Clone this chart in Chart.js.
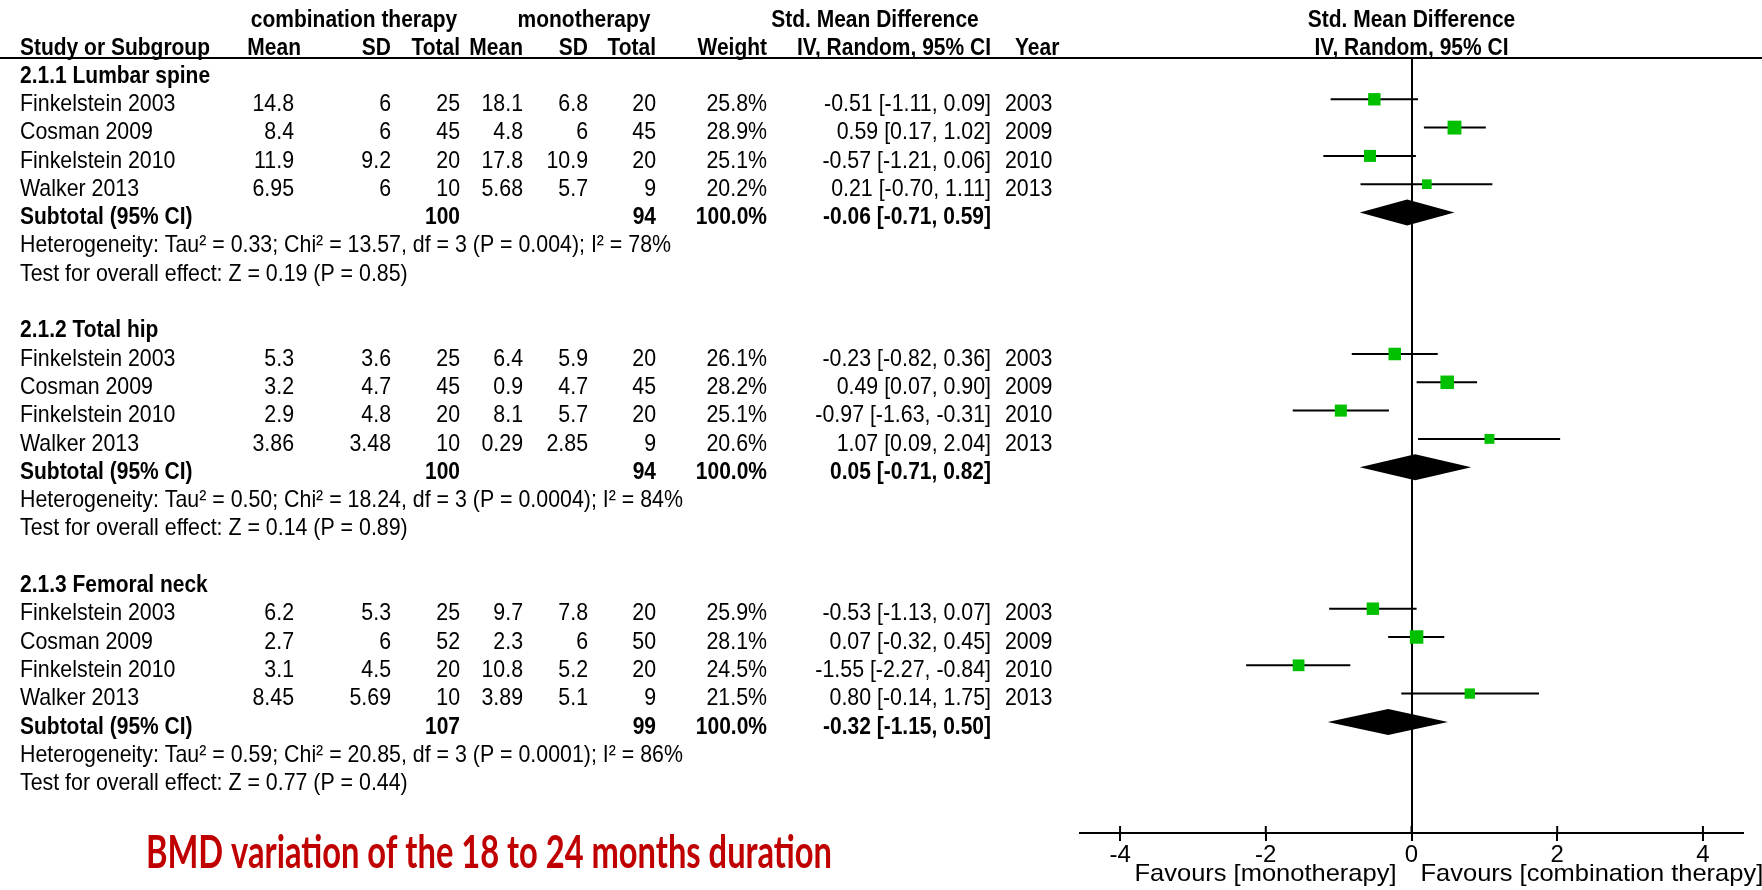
<!DOCTYPE html>
<html>
<head>
<meta charset="utf-8">
<script src="https://cdn.jsdelivr.net/npm/chart.js@4.4.0/dist/chart.umd.min.js"></script>
<style>
  html, body { margin: 0; padding: 0; background: #fff; }
  #wrap { width: 1762px; height: 890px; }
</style>
</head>
<body>
<div id="wrap"><canvas id="forest" width="1762" height="890"></canvas></div>
<script>
// ---- data ----
const groups = ['2.1.1 Lumbar spine', '2.1.2 Total hip', '2.1.3 Femoral neck'];
const studies = ['Finkelstein 2003', 'Cosman 2009', 'Finkelstein 2010', 'Walker 2013'];
const years = ['2003', '2009', '2010', '2013'];

// 3 subgroups x 4 studies, in table order
const combMean = [14.8, 8.4, 11.9, 6.95, 5.3, 3.2, 2.9, 3.86, 6.2, 2.7, 3.1, 8.45];
const combSD = [6, 6, 9.2, 6, 3.6, 4.7, 4.8, 3.48, 5.3, 6, 4.5, 5.69];
const combN = [25, 45, 20, 10, 25, 45, 20, 10, 25, 52, 20, 10];
const monoMean = [18.1, 4.8, 17.8, 5.68, 6.4, 0.9, 8.1, 0.29, 9.7, 2.3, 10.8, 3.89];
const monoSD = [6.8, 6, 10.9, 5.7, 5.9, 4.7, 5.7, 2.85, 7.8, 6, 5.2, 5.1];
const monoN = [20, 45, 20, 9, 20, 45, 20, 9, 20, 50, 20, 9];
const weights = [25.8, 28.9, 25.1, 20.2, 26.1, 28.2, 25.1, 20.6, 25.9, 28.1, 24.5, 21.5];
const smd = [-0.51, 0.59, -0.57, 0.21, -0.23, 0.49, -0.97, 1.07, -0.53, 0.07, -1.55, 0.80];
const ciLow = [-1.11, 0.17, -1.21, -0.70, -0.82, 0.07, -1.63, 0.09, -1.13, -0.32, -2.27, -0.14];
const ciHigh = [0.09, 1.02, 0.06, 1.11, 0.36, 0.90, -0.31, 2.04, 0.07, 0.45, -0.84, 1.75];

// subtotals per subgroup
const subCombN = [100, 100, 107];
const subMonoN = [94, 94, 99];
const subSmd = [-0.06, 0.05, -0.32];
const subLow = [-0.71, -0.71, -1.15];
const subHigh = [0.59, 0.82, 0.50];
const tau2 = ['0.33', '0.50', '0.59'];
const chi2 = ['13.57', '18.24', '20.85'];
const hetP = ['0.004', '0.0004', '0.0001'];
const i2 = [78, 84, 86];
const zVal = ['0.19', '0.14', '0.77'];
const zP = ['0.85', '0.89', '0.44'];

const xTicks = [-4, -2, 0, 2, 4];

// ---- layout ----
const ROWS_PER_GROUP = 9;   // header, 4 studies, subtotal, heterogeneity, test, blank
const studyRow = i => Math.floor(i / 4) * ROWS_PER_GROUP + 1 + (i % 4);
const subRow = g => g * ROWS_PER_GROUP + 5;

const cols = { combMean: 294, combSD: 391, combN: 460, monoMean: 523, monoSD: 588,
  monoN: 656, weight: 767, ci: 991, year: 1005 };
const FS = 24;
const FONT = '"Liberation Sans", Arial, sans-serif';
const GREEN = '#00c000';

const f2 = v => v.toFixed(2);
const ciText = (e, l, h) => `${f2(e)} [${f2(l)}, ${f2(h)}]`;
const hetText = g => `Heterogeneity: Tau\u00b2 = ${tau2[g]}; Chi\u00b2 = ${chi2[g]}, df = 3 (P = ${hetP[g]}); I\u00b2 = ${i2[g]}%`;

// horizontal squeeze for regular / bold / favours text (the reference is condensed)
let SX = 1, SXB = 1, SXF = 1;
function txt(ctx, s, x, y, align, bold, sx) {
  ctx.save();
  ctx.font = (bold ? 'bold ' : '') + FS + 'px ' + FONT;
  ctx.fillStyle = '#000';
  ctx.textAlign = align;
  ctx.textBaseline = 'middle';
  ctx.translate(x, y);
  ctx.scale(sx || (bold ? SXB : SX), 1);
  ctx.fillText(s, 0, 0);
  ctx.restore();
}

// whisker segments, separated by gaps
const whiskers = [];
smd.forEach((v, i) => {
  whiskers.push({ x: ciLow[i], y: studyRow(i) }, { x: ciHigh[i], y: studyRow(i) }, { x: null, y: null });
});
const squares = smd.map((v, i) => ({ x: v, y: studyRow(i) }));

const forestPlugin = {
  id: 'forest',
  afterDatasetsDraw(chart) {
    const { ctx, scales: { x, y } } = chart;
    // subtotal diamonds
    ctx.save();
    ctx.fillStyle = '#000';
    subSmd.forEach((v, g) => {
      const py = y.getPixelForValue(subRow(g));
      ctx.beginPath();
      ctx.moveTo(x.getPixelForValue(subLow[g]), py);
      ctx.lineTo(x.getPixelForValue(v), py - 13);
      ctx.lineTo(x.getPixelForValue(subHigh[g]), py);
      ctx.lineTo(x.getPixelForValue(v), py + 13);
      ctx.closePath();
      ctx.fill();
    });
    // upper half of the axis ticks
    ctx.strokeStyle = '#000';
    ctx.lineWidth = 2;
    xTicks.forEach(t => {
      const px = x.getPixelForValue(t);
      ctx.beginPath();
      ctx.moveTo(px, y.bottom - 7);
      ctx.lineTo(px, y.bottom);
      ctx.stroke();
    });
    ctx.restore();
  },
  afterDraw(chart) {
    const { ctx, scales: { x, y } } = chart;
    ctx.save();
    ctx.font = FS + 'px ' + FONT;
    SX = 651 / ctx.measureText(hetText(0)).width;
    SXF = 262 / ctx.measureText('Favours [monotherapy]').width;
    ctx.font = 'bold ' + FS + 'px ' + FONT;
    SXB = 190 / ctx.measureText('Study or Subgroup').width;
    ctx.restore();

    const ry = r => y.getPixelForValue(r) + 5;
    const mid = x.getPixelForValue(0);

    // header rows
    const h1 = 20, h2 = 48;
    txt(ctx, 'combination therapy', 354, h1, 'center', true);
    txt(ctx, 'monotherapy', 584, h1, 'center', true);
    txt(ctx, 'Std. Mean Difference', 875, h1, 'center', true);
    txt(ctx, 'Std. Mean Difference', mid, h1, 'center', true);
    txt(ctx, 'Study or Subgroup', 20, h2, 'left', true);
    txt(ctx, 'Mean', 301, h2, 'right', true);
    txt(ctx, 'SD', cols.combSD, h2, 'right', true);
    txt(ctx, 'Total', cols.combN, h2, 'right', true);
    txt(ctx, 'Mean', cols.monoMean, h2, 'right', true);
    txt(ctx, 'SD', cols.monoSD, h2, 'right', true);
    txt(ctx, 'Total', cols.monoN, h2, 'right', true);
    txt(ctx, 'Weight', cols.weight, h2, 'right', true);
    txt(ctx, 'IV, Random, 95% CI', cols.ci, h2, 'right', true);
    txt(ctx, 'Year', 1015, h2, 'left', true);
    txt(ctx, 'IV, Random, 95% CI', mid, h2, 'center', true);

    ctx.save();
    ctx.strokeStyle = '#000';
    ctx.lineWidth = 2;
    ctx.beginPath();
    ctx.moveTo(0, y.top - 1);
    ctx.lineTo(chart.width, y.top - 1);
    ctx.stroke();
    ctx.restore();

    // study rows
    smd.forEach((v, i) => {
      const py = ry(studyRow(i));
      txt(ctx, studies[i % 4], 20, py, 'left');
      txt(ctx, String(combMean[i]), cols.combMean, py, 'right');
      txt(ctx, String(combSD[i]), cols.combSD, py, 'right');
      txt(ctx, String(combN[i]), cols.combN, py, 'right');
      txt(ctx, String(monoMean[i]), cols.monoMean, py, 'right');
      txt(ctx, String(monoSD[i]), cols.monoSD, py, 'right');
      txt(ctx, String(monoN[i]), cols.monoN, py, 'right');
      txt(ctx, weights[i].toFixed(1) + '%', cols.weight, py, 'right');
      txt(ctx, ciText(v, ciLow[i], ciHigh[i]), cols.ci, py, 'right');
      txt(ctx, years[i % 4], cols.year, py, 'left');
    });

    // subgroup header, subtotal and test lines
    groups.forEach((name, g) => {
      const base = g * ROWS_PER_GROUP;
      txt(ctx, name, 20, ry(base), 'left', true);
      const py = ry(subRow(g));
      txt(ctx, 'Subtotal (95% CI)', 20, py, 'left', true);
      txt(ctx, String(subCombN[g]), cols.combN, py, 'right', true);
      txt(ctx, String(subMonoN[g]), cols.monoN, py, 'right', true);
      txt(ctx, '100.0%', cols.weight, py, 'right', true);
      txt(ctx, ciText(subSmd[g], subLow[g], subHigh[g]), cols.ci, py, 'right', true);
      txt(ctx, hetText(g), 20, ry(base + 6), 'left');
      txt(ctx, `Test for overall effect: Z = ${zVal[g]} (P = ${zP[g]})`, 20, ry(base + 7), 'left');
    });

    // favours labels under the axis
    txt(ctx, 'Favours [monotherapy]', mid - 15, 874, 'right', false, SXF);
    txt(ctx, 'Favours [combination therapy]', mid + 9, 874, 'left', false, SXF);

    // red caption
    ctx.save();
    ctx.font = 'bold 46px Lato, "Open Sans", sans-serif';
    const tw = ctx.measureText('BMD variation of the 18 to 24 months duration').width;
    ctx.fillStyle = '#c00000';
    ctx.textBaseline = 'middle';
    ctx.translate(146, 853);
    ctx.scale(686 / tw, 1);
    ctx.fillText('BMD variation of the 18 to 24 months duration', 0, 0);
    ctx.restore();
  }
};

new Chart(document.getElementById('forest'), {
  type: 'scatter',
  data: {
    datasets: [
      {
        data: squares,
        pointStyle: 'rect',
        pointRadius: weights.map(w => w * 0.48 / Math.SQRT2),
        backgroundColor: GREEN,
        borderColor: GREEN,
        borderWidth: 0,
        order: 0
      },
      {
        data: whiskers,
        showLine: true,
        spanGaps: false,
        borderColor: '#000',
        borderWidth: 2,
        pointRadius: 0,
        order: 1
      }
    ]
  },
  options: {
    responsive: false,
    animation: false,
    devicePixelRatio: 1,
    layout: { padding: { left: 1080, right: 19, top: 59, bottom: 0 } },
    plugins: { legend: { display: false }, tooltip: { enabled: false } },
    scales: {
      x: {
        min: -4.55,
        max: 4.55,
        afterBuildTicks: scale => { scale.ticks = xTicks.map(v => ({ value: v })); },
        afterFit: scale => { scale.height = 57; },
        border: { display: true, color: '#000', width: 2 },
        grid: {
          drawOnChartArea: true,
          color: ctx => (ctx.tick && ctx.tick.value === 0 ? '#000' : 'rgba(0,0,0,0)'),
          lineWidth: 2,
          tickColor: '#000',
          tickLength: 8
        },
        ticks: { color: '#000', font: { family: FONT, size: 24 }, padding: 0 }
      },
      y: {
        display: false,
        reverse: true,
        min: -0.424,
        max: 26.926
      }
    }
  },
  plugins: [forestPlugin]
});
</script>
</body>
</html>
